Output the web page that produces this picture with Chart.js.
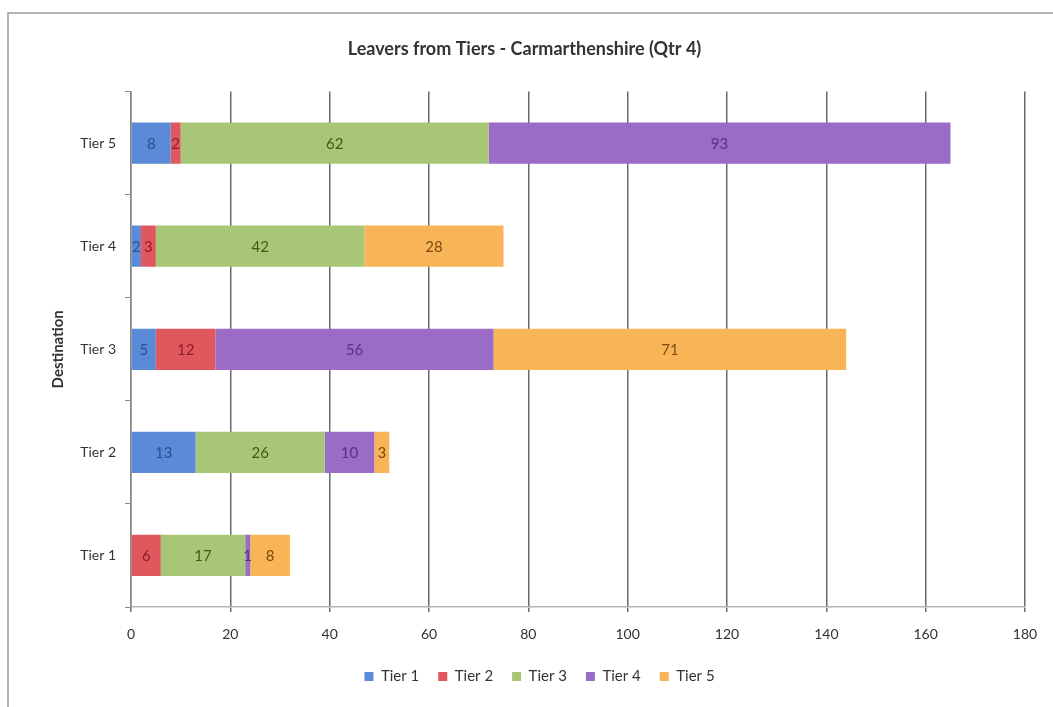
<!DOCTYPE html>
<html>
<head>
<meta charset="utf-8">
<title>Leavers from Tiers - Carmarthenshire (Qtr 4)</title>
<script src="https://cdn.jsdelivr.net/npm/chart.js@4.4.0/dist/chart.umd.min.js"></script>
<style>
  html, body { margin: 0; padding: 0; background: #fff; }
  #wrap { width: 1053px; height: 707px; }
</style>
</head>
<body>
<div id="wrap"><canvas id="leaversChart" width="1053" height="707"></canvas></div>
<script>
// Destination categories (bottom to top in the picture)
const categories = ["Tier 1", "Tier 2", "Tier 3", "Tier 4", "Tier 5"];

// Leavers from each tier, per destination (same order as categories)
const fromTier1 = [0, 13, 5, 2, 8];
const fromTier2 = [6, 0, 12, 3, 2];
const fromTier3 = [17, 26, 0, 42, 62];
const fromTier4 = [1, 10, 56, 0, 93];
const fromTier5 = [8, 3, 71, 28, 0];

const xTicks = [0, 20, 40, 60, 80, 100, 120, 140, 160, 180];

const fills = ["#5b8bd8", "#e0585e", "#a7c777", "#9a6cc6", "#f8b456"];
const labelInk = ["#2b4f8f", "#8a1f25", "#3f5a1c", "#5a3380", "#7a4a10"];

Chart.defaults.font.family = "Lato, 'Open Sans', sans-serif";
Chart.defaults.color = "#333";

// white page and the thin frame round the chart
const framePlugin = {
  id: "frame",
  beforeDraw(chart) {
    const c = chart.ctx;
    c.save();
    c.fillStyle = "#fff";
    c.fillRect(0, 0, chart.width, chart.height);
    c.strokeStyle = "#9a9a9a";
    c.lineWidth = 1.5;
    c.strokeRect(8, 13, chart.width + 20, chart.height + 20);
    c.restore();
  },
  // the original centres title and legend a bit right of the canvas middle
  afterLayout(chart) {
    if (chart.legend) { chart.legend.left += 27; chart.legend.right += 27; }
    if (chart.titleBlock) { chart.titleBlock.left += 12; chart.titleBlock.right += 12; }
  },
};

// numbers inside each bar segment
const segmentLabels = {
  id: "segmentLabels",
  afterDatasetsDraw(chart) {
    const c = chart.ctx;
    c.save();
    c.font = "15px Lato, 'Open Sans', sans-serif";
    c.textAlign = "center";
    c.textBaseline = "middle";
    chart.data.datasets.forEach((ds, i) => {
      const meta = chart.getDatasetMeta(i);
      meta.data.forEach((bar, j) => {
        const v = ds.data[j];
        if (!v) return;
        const p = bar.getCenterPoint();
        c.fillStyle = labelInk[i];
        c.fillText(String(v), p.x, p.y + 1);
      });
    });
    c.restore();
  },
};

const seriesData = [fromTier1, fromTier2, fromTier3, fromTier4, fromTier5];
const seriesNames = ["Tier 1", "Tier 2", "Tier 3", "Tier 4", "Tier 5"];

new Chart(document.getElementById("leaversChart").getContext("2d"), {
  type: "bar",
  data: {
    labels: categories,
    datasets: seriesData.map((d, i) => ({
      label: seriesNames[i],
      data: d,
      backgroundColor: fills[i],
      borderWidth: 0,
      categoryPercentage: 1,
      barPercentage: 0.4,
    })),
  },
  options: {
    indexAxis: "y",
    responsive: false,
    animation: false,
    layout: { padding: { left: 0, right: 28, top: 0, bottom: 13 } },
    plugins: {
      title: {
        display: true,
        text: "Leavers from Tiers - Carmarthenshire (Qtr 4)",
        color: "#333",
        font: { size: 18, weight: "bold" },
        padding: { top: 38, bottom: 32 },
      },
      legend: {
        position: "bottom",
        labels: {
          boxWidth: 9,
          boxHeight: 9,
          padding: 19,
          color: "#333",
          font: { size: 15 },
        },
      },
      tooltip: { enabled: false },
    },
    scales: {
      x: {
        stacked: true,
        min: 0,
        max: 180,
        afterBuildTicks(scale) {
          scale.ticks = xTicks.map((v) => ({ value: v }));
        },
        afterFit(scale) {
          scale.height = 43;
        },
        ticks: { padding: 14, font: { size: 14 }, color: "#333" },
        grid: { color: "#6a6a6a", lineWidth: 1.5, tickLength: 5 },
        border: { color: "#b5b5b5", width: 1.5 },
      },
      y: {
        stacked: true,
        reverse: true,
        afterFit(scale) {
          scale.width = 131;
        },
        ticks: { padding: 9, font: { size: 14 }, color: "#333" },
        grid: { drawOnChartArea: false, drawTicks: true, tickLength: 6, color: "#8a8a8a" },
        border: { color: "#8a8a8a", width: 1.5 },
        title: {
          display: true,
          text: "Destination",
          color: "#333",
          font: { size: 15, weight: "bold" },
          padding: { top: 49, bottom: 4 },
        },
      },
    },
  },
  plugins: [framePlugin, segmentLabels],
});
</script>
</body>
</html>
